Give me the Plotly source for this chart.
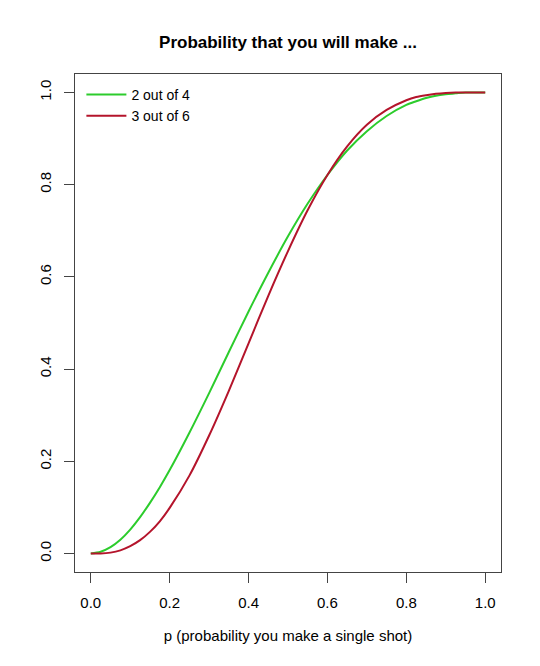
import plotly.graph_objects as go

# p values (probability of making a single shot)
p_values = [0.0, 0.025, 0.05, 0.075, 0.10, 0.125, 0.15, 0.175, 0.20, 0.25, 0.30,
            0.35, 0.40, 0.45, 0.50, 0.55, 0.60, 0.65, 0.70, 0.75, 0.80,
            0.825, 0.85, 0.875, 0.90, 0.925, 0.95, 0.975, 1.0]

two_of_four = [0.000, 0.004, 0.014, 0.030, 0.052, 0.079, 0.110, 0.144, 0.181, 0.262, 0.348,
               0.437, 0.525, 0.609, 0.688, 0.759, 0.821, 0.874, 0.916, 0.949, 0.973,
               0.981, 0.988, 0.993, 0.996, 0.998, 1.000, 1.000, 1.000]
three_of_six = [0.000, 0.000, 0.002, 0.007, 0.016, 0.029, 0.047, 0.070, 0.099, 0.169, 0.256,
                0.353, 0.456, 0.559, 0.656, 0.745, 0.821, 0.883, 0.930, 0.962, 0.983,
                0.990, 0.994, 0.997, 0.999, 1.000, 1.000, 1.000, 1.000]

x_ticks = [0.0, 0.2, 0.4, 0.6, 0.8, 1.0]
y_ticks = [0.0, 0.2, 0.4, 0.6, 0.8, 1.0]
tick_text = ["0.0", "0.2", "0.4", "0.6", "0.8", "1.0"]

FONT = "Liberation Sans, Arial, sans-serif"

fig = go.Figure()

fig.add_trace(go.Scatter(
    x=p_values, y=two_of_four, mode="lines", name="2 out of 4",
    line=dict(color="#2ccc2c", width=2, shape="spline", smoothing=0.8)
))
fig.add_trace(go.Scatter(
    x=p_values, y=three_of_six, mode="lines", name="3 out of 6",
    line=dict(color="#b4142b", width=2, shape="spline", smoothing=0.8)
))

axis_common = dict(
    showgrid=False, zeroline=False,
    showline=True, mirror=True, linecolor="#444", linewidth=1,
    ticks="outside", ticklen=10, tickcolor="#444",
    tickfont=dict(family=FONT, size=15, color="black"),
)

fig.update_xaxes(
    range=[-0.04, 1.04], tickvals=x_ticks, ticktext=tick_text,
    ticklabelstandoff=7,
    title=dict(text="p (probability you make a single shot)",
               font=dict(family=FONT, size=15, color="black"), standoff=20),
    **axis_common
)
fig.update_yaxes(
    range=[-0.04, 1.04], tickvals=y_ticks, ticktext=tick_text,
    tickangle=-90, ticklabelstandoff=7,
    **axis_common
)

# page body has an 8px margin, so the figure is drawn 8px in from the corner
fig.update_layout(
    width=532, height=658,
    margin=dict(l=67, r=39, t=66, b=94),
    paper_bgcolor="white", plot_bgcolor="white",
    title=dict(text="<b>Probability that you will make ...</b>",
               x=280 / 532, xanchor="center",
               y=1 - 34 / 658, yanchor="middle",
               font=dict(family=FONT, size=17, color="black")),
    legend=dict(x=0.015, y=0.99, xanchor="left", yanchor="top",
                bgcolor="rgba(0,0,0,0)", borderwidth=0,
                font=dict(family=FONT, size=14, color="black"),
                tracegroupgap=0, itemwidth=40),
)

fig.write_html("out.html")
